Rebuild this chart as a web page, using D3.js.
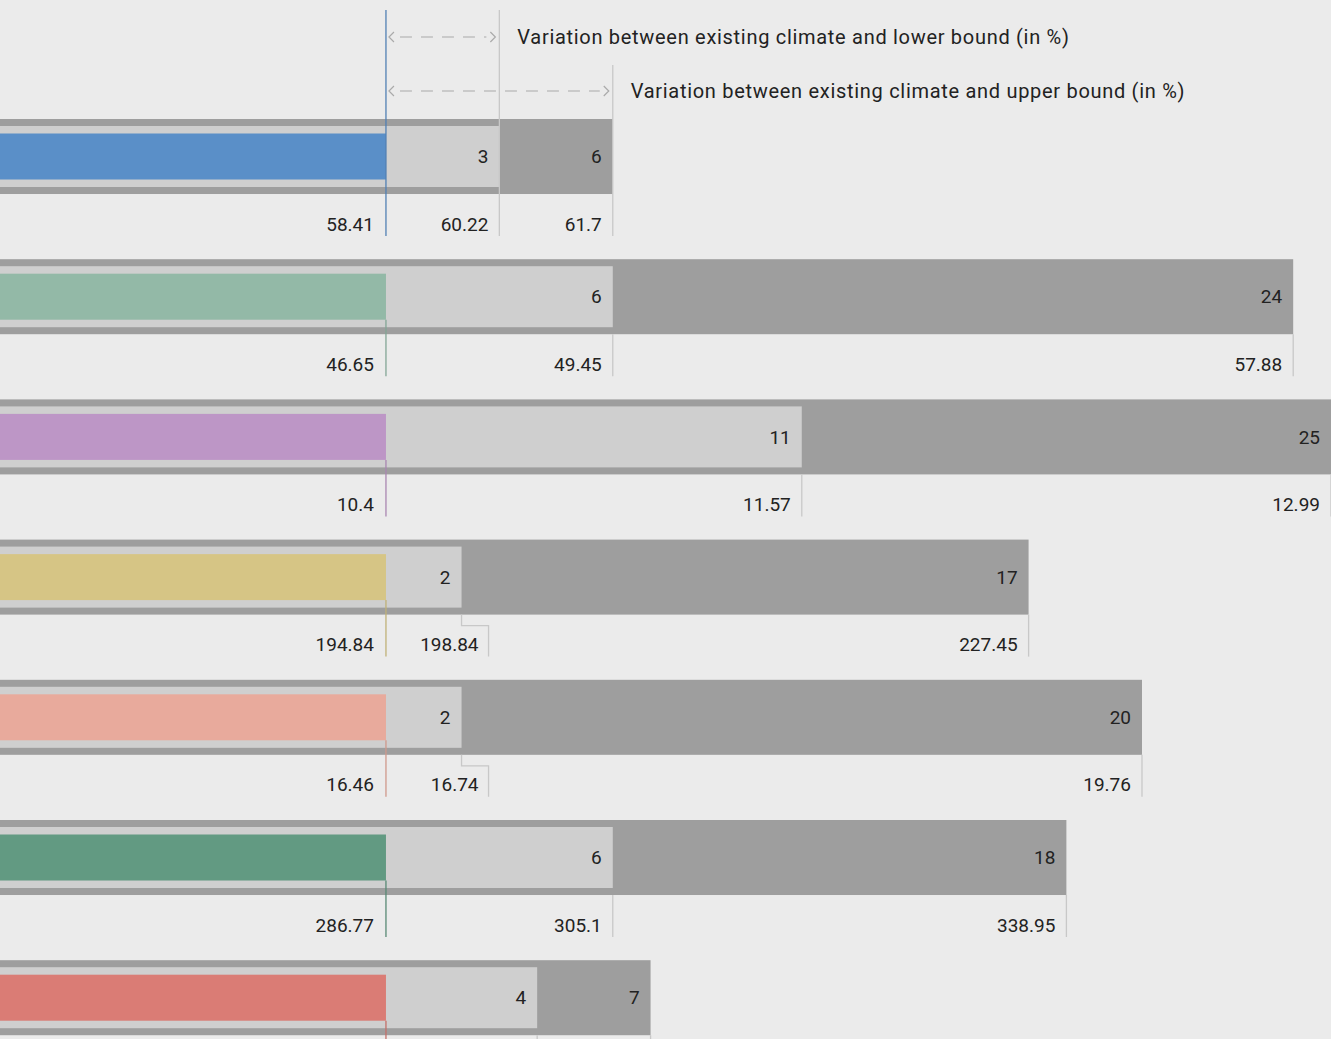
<!DOCTYPE html>
<html>
<head>
<meta charset="utf-8">
<script src="https://cdn.jsdelivr.net/npm/d3@7"></script>
<style>
  html, body { margin: 0; padding: 0; background: #ebebeb; overflow: hidden; }
  svg { display: block; font-family: Roboto, "Open Sans", sans-serif; }
</style>
</head>
<body>
<svg id="chart"></svg>
<script>
// existing climate value, lower / upper bound values and the rounded % variation
let baseValues  = [58.41, 46.65, 10.4, 194.84, 16.46, 286.77, null]
let lowerValues = [60.22, 49.45, 11.57, 198.84, 16.74, 305.1, null]
let upperValues = [61.7, 57.88, 12.99, 227.45, 19.76, 338.95, null]
let lowerPct = [3, 6, 11, 2, 2, 6, 4]
let upperPct = [6, 24, 25, 17, 20, 18, 7]
let rowColors = ["#5a8fc8", "#93b9a7", "#bd96c6", "#d6c585", "#e8aa9c", "#629a82", "#da7c75"]
let legendLabels = ["Variation between existing climate and lower bound (in %)",
                    "Variation between existing climate and upper bound (in %)"]

let width = 1331, height = 1039;
let svg = d3.select("#chart").attr("width", width).attr("height", height);

// x in percent of variation, the coloured bar sits left of 0
let x = d3.scaleLinear().domain([-10.21, 25]).range([0, width]);

let pIn = 0.465, stepH = 140.2;
let y = d3.scaleBand()
          .domain(d3.range(baseValues.length))
          .range([119, 119 + stepH * (baseValues.length - pIn)])
          .paddingInner(pIn).paddingOuter(0).align(0);
let bh = y.bandwidth(); // ~75

let darkGray = "#9e9e9e", lightGray = "#cfcfcf", tickGray = "#c8c8c8", textCol = "#222";

// legend arrows on top
let legendY = [37, 91];
let legendPct = [lowerPct[0], upperPct[0]];
legendY.forEach(function(ly, i) {
  let x0 = x(0) + 2, x1 = x(legendPct[i]) - 3;
  let g = svg.append("g");
  g.append("line").attr("x1", x0 + 12).attr("x2", x1 - 10).attr("y1", ly).attr("y2", ly)
   .attr("stroke", "#aaa").attr("stroke-width", 1.2).attr("stroke-dasharray", "12,9");
  g.append("path").attr("d", `M${x0+6},${ly-5}L${x0+1},${ly}L${x0+6},${ly+5}`)
   .attr("fill", "none").attr("stroke", "#aaa").attr("stroke-width", 1.2);
  g.append("path").attr("d", `M${x1-6},${ly-5}L${x1-1},${ly}L${x1-6},${ly+5}`)
   .attr("fill", "none").attr("stroke", "#aaa").attr("stroke-width", 1.2);
  g.append("text").attr("x", x(legendPct[i]) + 18).attr("y", ly)
   .attr("dy", "0.35em").attr("font-size", 20).attr("letter-spacing", 0.7)
   .attr("fill", textCol).text(legendLabels[i]);
});

let rows = svg.selectAll("g.row").data(baseValues.map((d, i) => i)).join("g")
              .attr("class", "row");

rows.each(function(i) {
  let g = d3.select(this);
  let top = y(i);
  let bottom = top + bh;
  let labelY = bottom + 30;
  let lineEnd = bottom + 42;

  // upper bound bar (full height)
  g.append("rect").attr("x", x.range()[0]).attr("y", top)
   .attr("width", x(upperPct[i]) - x.range()[0]).attr("height", bh).attr("fill", darkGray);
  // lower bound bar
  g.append("rect").attr("x", x.range()[0]).attr("y", top + 7)
   .attr("width", x(lowerPct[i]) - x.range()[0]).attr("height", bh - 14).attr("fill", lightGray);
  // existing climate bar
  g.append("rect").attr("x", x.range()[0]).attr("y", top + 14.5)
   .attr("width", x(0) - x.range()[0]).attr("height", bh - 29).attr("fill", rowColors[i]);

  // percent labels inside bars
  g.append("text").attr("x", x(lowerPct[i]) - 11).attr("y", top + bh / 2)
   .attr("dy", "0.35em").attr("text-anchor", "end").attr("font-size", 19)
   .attr("fill", textCol).text(lowerPct[i]);
  g.append("text").attr("x", x(upperPct[i]) - 11).attr("y", top + bh / 2)
   .attr("dy", "0.35em").attr("text-anchor", "end").attr("font-size", 19)
   .attr("fill", textCol).text(upperPct[i]);

  // tick lines below the bars (first row reaches up to the legend)
  let colTop = i === 0 ? 10 : top + bh - 14.5;
  let lowTop = i === 0 ? 10 : bottom;
  let upTop = i === 0 ? 65 : bottom;

  g.append("line").attr("x1", x(upperPct[i])).attr("x2", x(upperPct[i]))
   .attr("y1", upTop).attr("y2", lineEnd).attr("stroke", tickGray).attr("stroke-width", 1.3);

  // lower bound line, with an elbow when the label does not fit
  let lowLabel = g.append("text").attr("y", labelY).attr("dy", "0.35em")
                  .attr("text-anchor", "end").attr("font-size", 19).attr("fill", textCol)
                  .text(lowerValues[i] == null ? "" : lowerValues[i]);
  let lw = lowLabel.node().getComputedTextLength();
  let lx = x(lowerPct[i]);
  if (lowerValues[i] != null && lw + 32 > lx - x(0)) {
    let ex = lx + 27;
    g.append("path").attr("d", `M${lx},${lowTop}V${bottom + 11}H${ex}V${lineEnd}`)
     .attr("fill", "none").attr("stroke", tickGray).attr("stroke-width", 1.3);
    lowLabel.attr("x", ex - 10);
  } else {
    g.append("line").attr("x1", lx).attr("x2", lx).attr("y1", lowTop).attr("y2", lineEnd)
     .attr("stroke", tickGray).attr("stroke-width", 1.3);
    lowLabel.attr("x", lx - 11);
  }

  g.append("line").attr("x1", x(0)).attr("x2", x(0)).attr("y1", colTop).attr("y2", lineEnd)
   .attr("stroke", d3.color(rowColors[i]).darker(0.3)).attr("stroke-width", 1.3);

  if (baseValues[i] != null) {
    g.append("text").attr("x", x(0) - 12).attr("y", labelY).attr("dy", "0.35em")
     .attr("text-anchor", "end").attr("font-size", 19).attr("fill", textCol).text(baseValues[i]);
    g.append("text").attr("x", x(upperPct[i]) - 11).attr("y", labelY).attr("dy", "0.35em")
     .attr("text-anchor", "end").attr("font-size", 19).attr("fill", textCol).text(upperValues[i]);
  }
});
</script>
</body>
</html>
